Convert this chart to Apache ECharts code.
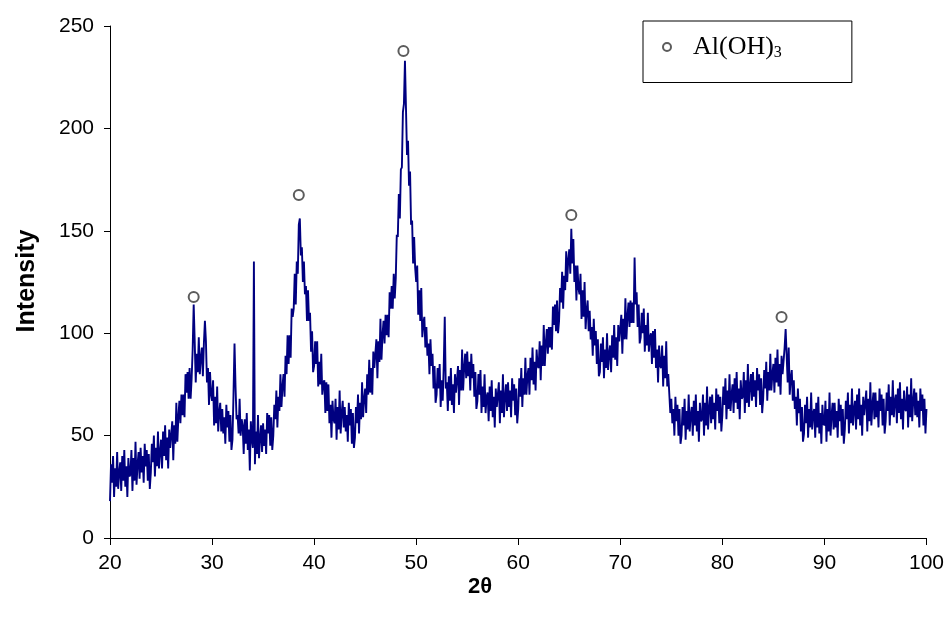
<!DOCTYPE html>
<html>
<head>
<meta charset="utf-8">
<script src="https://cdn.jsdelivr.net/npm/echarts@6/dist/echarts.min.js"></script>
<style>
  html, body { margin: 0; padding: 0; background: #fff; }
  #chart { width: 947px; height: 621px; }
</style>
</head>
<body>
<div id="chart"></div>
<script>
// XRD scan: 2θ from 20° to 100°, one reading every 0.1°
const scanStart = 20;
const scanStep = 0.1;
const intensity = [
  18,36,27,40,20,34,25,42,24,32,
  37,23,40,28,43,25,35,20,39,30,
  31,43,23,39,28,47,26,36,42,29,
  44,32,40,27,46,35,43,28,41,24,
  32,46,37,50,30,44,35,52,34,42,
  48,34,52,40,55,38,49,34,53,44,
  44,57,38,55,46,66,47,59,67,56,
  70,60,70,59,80,71,81,68,83,68,
  78,92,114,96,76,90,81,98,80,88,
  93,79,95,106,96,76,83,65,81,70,
  67,77,55,69,56,74,52,61,66,52,
  63,51,59,46,65,54,62,47,60,43,
  48,70,95,74,58,60,51,68,50,58,
  55,41,58,46,61,43,53,33,57,48,
  44,135,36,52,41,60,39,49,55,42,
  56,45,53,41,61,51,60,45,59,43,
  50,65,58,72,54,69,62,80,64,74,
  80,69,89,80,99,85,99,88,112,108,
  112,129,114,135,129,153,156,138,142,125,
  135,119,123,106,121,106,110,91,101,81,
  84,96,85,96,74,86,75,90,70,76,
  77,61,76,62,75,56,65,49,67,58,
  56,68,48,64,53,72,51,61,67,54,
  64,52,60,47,66,55,63,46,61,44,
  49,64,56,70,51,66,58,76,59,68,
  73,61,80,70,87,71,83,70,91,83,
  83,97,78,96,86,107,87,99,106,95,
  109,99,109,98,120,112,123,112,129,117,
  127,148,147,168,156,180,181,208,212,233,
  210,187,194,172,179,153,155,134,147,132,
  125,133,109,121,106,122,98,105,108,93,
  103,89,95,80,97,84,90,73,84,66,
  70,83,73,85,64,77,67,84,108,73,
  76,62,79,67,83,65,75,61,80,71,
  71,84,65,82,72,92,72,83,90,78,
  91,79,86,72,90,78,85,69,81,63,
  67,80,70,82,61,74,64,80,61,69,
  71,57,74,62,77,59,69,54,73,64,
  64,76,56,72,61,80,59,69,75,62,
  76,64,72,59,78,67,75,60,73,56,
  63,78,69,83,64,78,70,88,70,79,
  83,70,88,77,93,75,86,72,92,84,
  83,96,77,94,84,104,84,95,102,90,
  103,93,103,92,113,104,114,101,116,100,
  106,122,115,130,112,128,121,140,125,136,
  141,129,151,134,146,125,133,116,133,122,
  119,129,107,121,108,125,102,111,116,101,
  111,97,103,89,107,94,101,85,97,79,
  81,95,86,98,78,92,83,100,82,90,
  94,81,99,88,104,87,98,84,104,96,
  96,109,90,107,97,117,97,108,115,103,
  116,105,115,105,137,114,120,103,114,95,
  98,110,100,112,91,104,94,110,91,98,
  100,85,101,88,102,83,92,76,94,84,
  83,94,74,89,78,96,74,80,80,61,
  68,56,63,50,69,57,65,50,63,46,
  50,64,55,68,48,62,53,70,52,60,
  64,50,67,55,70,52,62,47,66,57,
  58,70,50,66,55,74,53,63,69,56,
  70,58,66,53,73,62,70,56,69,52,
  60,74,65,78,58,72,63,80,62,70,
  75,61,78,66,81,63,73,58,77,68,
  69,81,61,77,66,85,64,74,80,67,
  81,69,77,64,83,72,80,65,78,61,
  68,82,73,86,67,81,72,90,72,80,
  85,71,88,76,92,74,85,70,89,80,
  80,93,102,89,76,93,70,78,82,67,
  77,63,69,55,73,61,68,52,64,47,
  51,65,56,69,49,63,54,71,53,61,
  63,49,66,54,69,51,61,46,65,56,
  55,67,47,63,52,71,50,60,66,53,
  66,54,62,49,68,57,65,50,63,46,
  53,67,58,71,51,65,56,73,55,63,
  67,53,70,58,73,55,65,50,69,60,
  60,72,52,68,57,76,55,65,71,58,
  71,59,67,54,73,62,70,55,68,51,
  57,71,62,75,55,69,60,77,59,67,
  70,56,73,61,76,58,68,53,72,63,
  62,74,54,70,59,78,57,67,73,60,
  71,59,67,54,73,62,70,55,68,51,
  63
];

// Al(OH)3 reflections marked above the pattern
const peakAngle = [28.2, 38.5, 48.75, 65.2, 85.8];
const peakMark = [117.7, 167.5, 237.8, 157.7, 107.9];

const xTicks = { min: 20, max: 100, interval: 10 };
const yTicks = { min: 0, max: 250, interval: 50 };

const scanPoints = intensity.map((v, i) => [+(scanStart + i * scanStep).toFixed(2), v]);
const peakPoints = peakAngle.map((a, i) => [a, peakMark[i]]);

const sansFont = '"Liberation Sans", Arial, sans-serif';
const serifFont = '"Liberation Serif", "Times New Roman", serif';

const chart = echarts.init(document.getElementById('chart'), null, { renderer: 'canvas' });
chart.setOption({
  animation: false,
  backgroundColor: '#ffffff',
  grid: { left: 110, right: 19, top: 26, bottom: 83, containLabel: false },
  title: {
    text: '2θ',
    left: 468,
    top: 576,
    padding: 0,
    textStyle: { fontFamily: sansFont, fontWeight: 'bold', fontSize: 22, color: '#000' }
  },
  graphic: [{
    type: 'text',
    x: 27,
    y: 281,
    rotation: Math.PI / 2,
    style: {
      text: 'Intensity',
      font: 'bold 25px ' + sansFont,
      fill: '#000',
      align: 'center',
      verticalAlign: 'middle'
    }
  }],
  legend: {
    left: 643,
    top: 21,
    orient: 'vertical',
    padding: [13, 70, 22, 19],
    borderColor: '#000',
    borderWidth: 1,
    itemWidth: 8,
    itemHeight: 8,
    data: [{ name: 'Al(OH)3', icon: 'emptyCircle' }],
    formatter: () => '{a|Al(OH)}{b|3}',
    textStyle: {
      padding: [0, 0, 0, 17],
      rich: {
        a: { fontFamily: serifFont, fontSize: 26, color: '#000' },
        b: { fontFamily: serifFont, fontSize: 16, color: '#000', padding: [11, 0, 0, 0] }
      }
    }
  },
  xAxis: {
    type: 'value',
    min: xTicks.min,
    max: xTicks.max,
    interval: xTicks.interval,
    axisLine: { show: true, onZero: false, lineStyle: { color: '#000', width: 1 } },
    axisTick: { show: true, inside: false, length: 7, lineStyle: { color: '#000' } },
    axisLabel: { margin: 15, color: '#000', fontSize: 21, fontFamily: sansFont },
    splitLine: { show: false }
  },
  yAxis: {
    type: 'value',
    min: yTicks.min,
    max: yTicks.max,
    interval: yTicks.interval,
    axisLine: { show: true, lineStyle: { color: '#000', width: 1 } },
    axisTick: { show: true, inside: false, length: 6, lineStyle: { color: '#000' } },
    axisLabel: { margin: 16, color: '#000', fontSize: 21, fontFamily: sansFont },
    splitLine: { show: false }
  },
  series: [
    {
      name: 'scan',
      type: 'line',
      data: scanPoints,
      showSymbol: false,
      sampling: null,
      lineStyle: { color: '#000080', width: 1.9 },
      itemStyle: { color: '#000080' },
      z: 2
    },
    {
      name: 'Al(OH)3',
      type: 'scatter',
      data: peakPoints,
      symbol: 'emptyCircle',
      symbolSize: 10,
      itemStyle: { color: '#333333', borderWidth: 1.2 },
      z: 3
    }
  ]
});
</script>
</body>
</html>
